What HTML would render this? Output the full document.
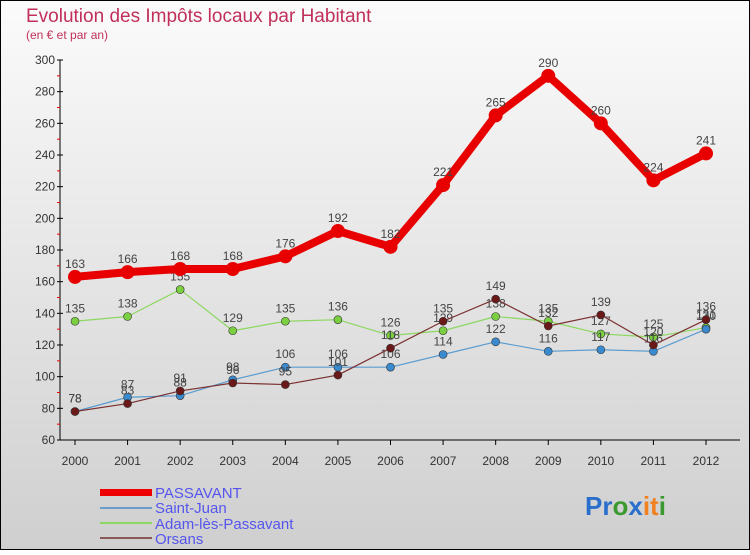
<!DOCTYPE html>
<html><head><meta charset="utf-8"><style>
html,body{margin:0;padding:0}
body{width:750px;height:550px;overflow:hidden;font-family:"Liberation Sans",sans-serif}
</style></head><body>
<svg id="chart" width="750" height="550" xmlns="http://www.w3.org/2000/svg">
<defs><linearGradient id="bg" x1="0" y1="0" x2="0" y2="1"><stop offset="0" stop-color="#fbfbfb"/><stop offset="1" stop-color="#cfcfcf"/></linearGradient></defs>
<rect x="0.5" y="0.5" width="749" height="549" fill="url(#bg)" stroke="#000"/>
<text x="26" y="22" font-size="19" fill="#c0305a">Evolution des Impôts locaux par Habitant</text>
<text x="26" y="39" font-size="12" fill="#c0305a">(en € et par an)</text>
<g id="axes"></g><g id="series"></g>
<g font-size="15" fill="#5555ee">
<rect x="100" y="489" width="52" height="7" fill="#e00"/>
<text x="155" y="498">PASSAVANT</text>
<line x1="100" y1="508" x2="152" y2="508" stroke="#6a9ccc" stroke-width="2"/>
<text x="155" y="513">Saint-Juan</text>
<line x1="100" y1="523" x2="152" y2="523" stroke="#8cd860" stroke-width="2"/>
<text x="155" y="529">Adam-lès-Passavant</text>
<line x1="100" y1="538" x2="152" y2="538" stroke="#8a5a5a" stroke-width="2"/>
<text x="155" y="544">Orsans</text>
</g>
<g font-size="26" font-weight="bold">
<text x="585" y="515"><tspan fill="#2a6fcc">Pr</tspan><tspan fill="#3a9a30">o</tspan><tspan fill="#2a6fcc">x</tspan><tspan fill="#f08020">it</tspan><tspan fill="#3a9a30">i</tspan></text>
</g>
</svg>
<script>
const years=["2000","2001","2002","2003","2004","2005","2006","2007","2008","2009","2010","2011","2012"];
const passavant=[163,166,168,168,176,192,182,221,265,290,260,224,241];
const saintJuan=[78,87,88,98,106,106,106,114,122,116,117,116,130];
const adam=[135,138,155,129,135,136,126,129,138,135,127,125,131];
const orsans=[78,83,91,96,95,101,118,135,149,132,139,120,136];
const yTicks=[60,80,100,120,140,160,180,200,220,240,260,280,300];
const NS="http://www.w3.org/2000/svg";
const x=i=>75+i*(706-75)/(years.length-1);
const y=v=>440-(v-60)*(380/240);
function mk(t,a,p){const e=document.createElementNS(NS,t);for(const k in a)e.setAttribute(k,a[k]);p.appendChild(e);return e;}
const ax=document.getElementById('axes');
const yl=mk('line',{x1:60,y1:60,x2:60,y2:440,stroke:'#000'},ax);


yTicks.forEach(v=>{
 const g=mk('line',{x1:60,y1:y(v),x2:740,y2:y(v),stroke:'#fff','stroke-opacity':0.0},ax);
 mk('line',{x1:57,y1:y(v),x2:63,y2:y(v),stroke:'#000'},ax);
 if(v<300) mk('line',{x1:57,y1:y(v+10),x2:60,y2:y(v+10),stroke:'#e00'},ax);
 const t=mk('text',{x:55,y:y(v)+4,'font-size':12,'text-anchor':'end',fill:'#333'},ax);
 t.textContent=v;
 
 
});
const xl=mk('line',{x1:60,y1:440,x2:740,y2:440,stroke:'#000'},ax);


years.forEach((yr,i)=>{
 mk('line',{x1:x(i),y1:440,x2:x(i),y2:445,stroke:'#000'},ax);
 const t=mk('text',{x:x(i),y:465,'font-size':12,'text-anchor':'middle',fill:'#333'},ax);
 t.textContent=yr;
 
 
});
const sg=document.getElementById('series');
function draw(name,vals,color,w,r,dot){
 const g=mk('g',{},sg);
 
 
 mk('polyline',{points:vals.map((v,i)=>x(i)+','+y(v)).join(' '),fill:'none',stroke:color,'stroke-width':w,'stroke-linejoin':'round'},g);
 vals.forEach((v,i)=>{
  const c=mk('circle',{cx:x(i),cy:y(v),r:r,fill:dot,stroke:'#333','stroke-width':w>3?0:0.6},g);
  
  
  const t=mk('text',{x:x(i),y:y(v)-9,'font-size':12,'text-anchor':'middle',fill:'#444'},g);
  t.textContent=v;
  
  
 });
}
draw('series-adam',adam,'#8cd860',1.2,4,'#7ad040');
draw('series-saint-juan',saintJuan,'#5a9cd0',1.2,4,'#3a8ad0');
draw('series-orsans',orsans,'#7a3030',1.2,4,'#6a1818');
draw('series-passavant',passavant,'#e80000',8,7,'#e80000');
</script>
</body></html>
